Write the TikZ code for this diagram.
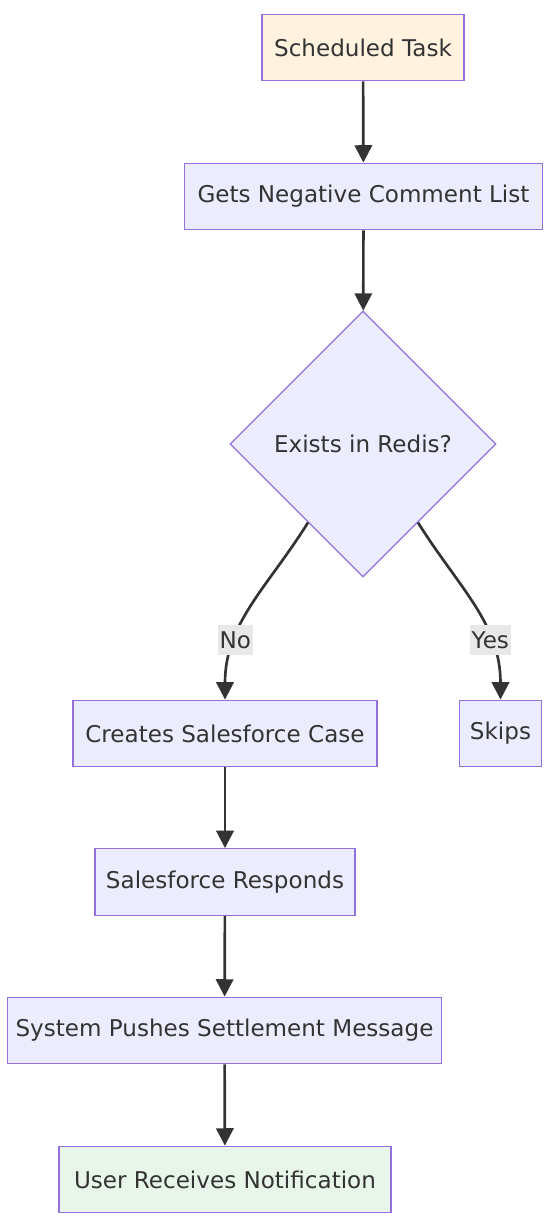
\documentclass[tikz,border=0pt]{standalone}
\usepackage{fontspec}
\setmainfont{DejaVu Sans}
\usepackage{tikz}
\usetikzlibrary{arrows.meta,shapes.geometric}

\definecolor{nodeline}{HTML}{9370DB}
\definecolor{nodefill}{HTML}{ECECFF}
\definecolor{startfill}{HTML}{FFF3E0}
\definecolor{endfill}{HTML}{E8F5E9}
\definecolor{textcol}{HTML}{333333}
\definecolor{lblfill}{HTML}{E8E8E8}

\begin{document}
\begin{tikzpicture}[
    x=0.75pt, y=-0.75pt,
    box/.style={rectangle, draw=nodeline, fill=nodefill, line width=0.9pt, minimum height=50pt, inner xsep=2pt, font=\fontsize{17.3}{20}\selectfont, text=textcol},
    decision/.style={diamond, draw=nodeline, fill=nodefill, line width=0.9pt, aspect=1, inner sep=0pt, minimum width=199.5pt, minimum height=199.5pt, font=\fontsize{17.3}{20}\selectfont, text=textcol},
    arr/.style={draw=textcol, line width=2pt, -{Triangle[length=13pt, width=13pt]}},
    lbl/.style={fill=lblfill, inner xsep=1.5pt, inner ysep=0pt, minimum height=23pt, font=\fontsize{17.3}{20}\selectfont, text=textcol},
]
    \useasboundingbox (0,0) rectangle (551,1220);
    \node[box, fill=startfill, minimum width=151.5pt] (task) at (363,47.5) {Scheduled Task};
    \node[box, minimum width=269pt] (fetch) at (363.5,196.5) {Gets Negative Comment List};
    \node[decision] (redis) at (363,444) {Exists in Redis?};
    \node[box, minimum width=228pt] (create) at (225,733.5) {Creates Salesforce Case};
    \node[box, minimum width=62pt] (skip) at (500.5,733.5) {Skips};
    \node[box, minimum width=195pt] (reply) at (225,882) {Salesforce Responds};
    \node[box, minimum width=326pt] (push) at (224.5,1030.5) {System Pushes Settlement Message};
    \node[box, fill=endfill, minimum width=249pt] (user) at (225,1179.5) {User Receives Notification};

    \draw[arr] (task) -- (fetch);
    \draw[arr] (fetch) -- (redis);
    \draw[arr] (redis.235) to[out=238, in=90] node[lbl, pos=0.7] {No} (create.north);
    \draw[arr] (redis.305) to[out=-58, in=90] node[lbl, pos=0.7] {Yes} (skip.north);
    \draw[arr] (create) -- (reply);
    \draw[arr] (reply) -- (push);
    \draw[arr] (push) -- (user);
\end{tikzpicture}
\end{document}
